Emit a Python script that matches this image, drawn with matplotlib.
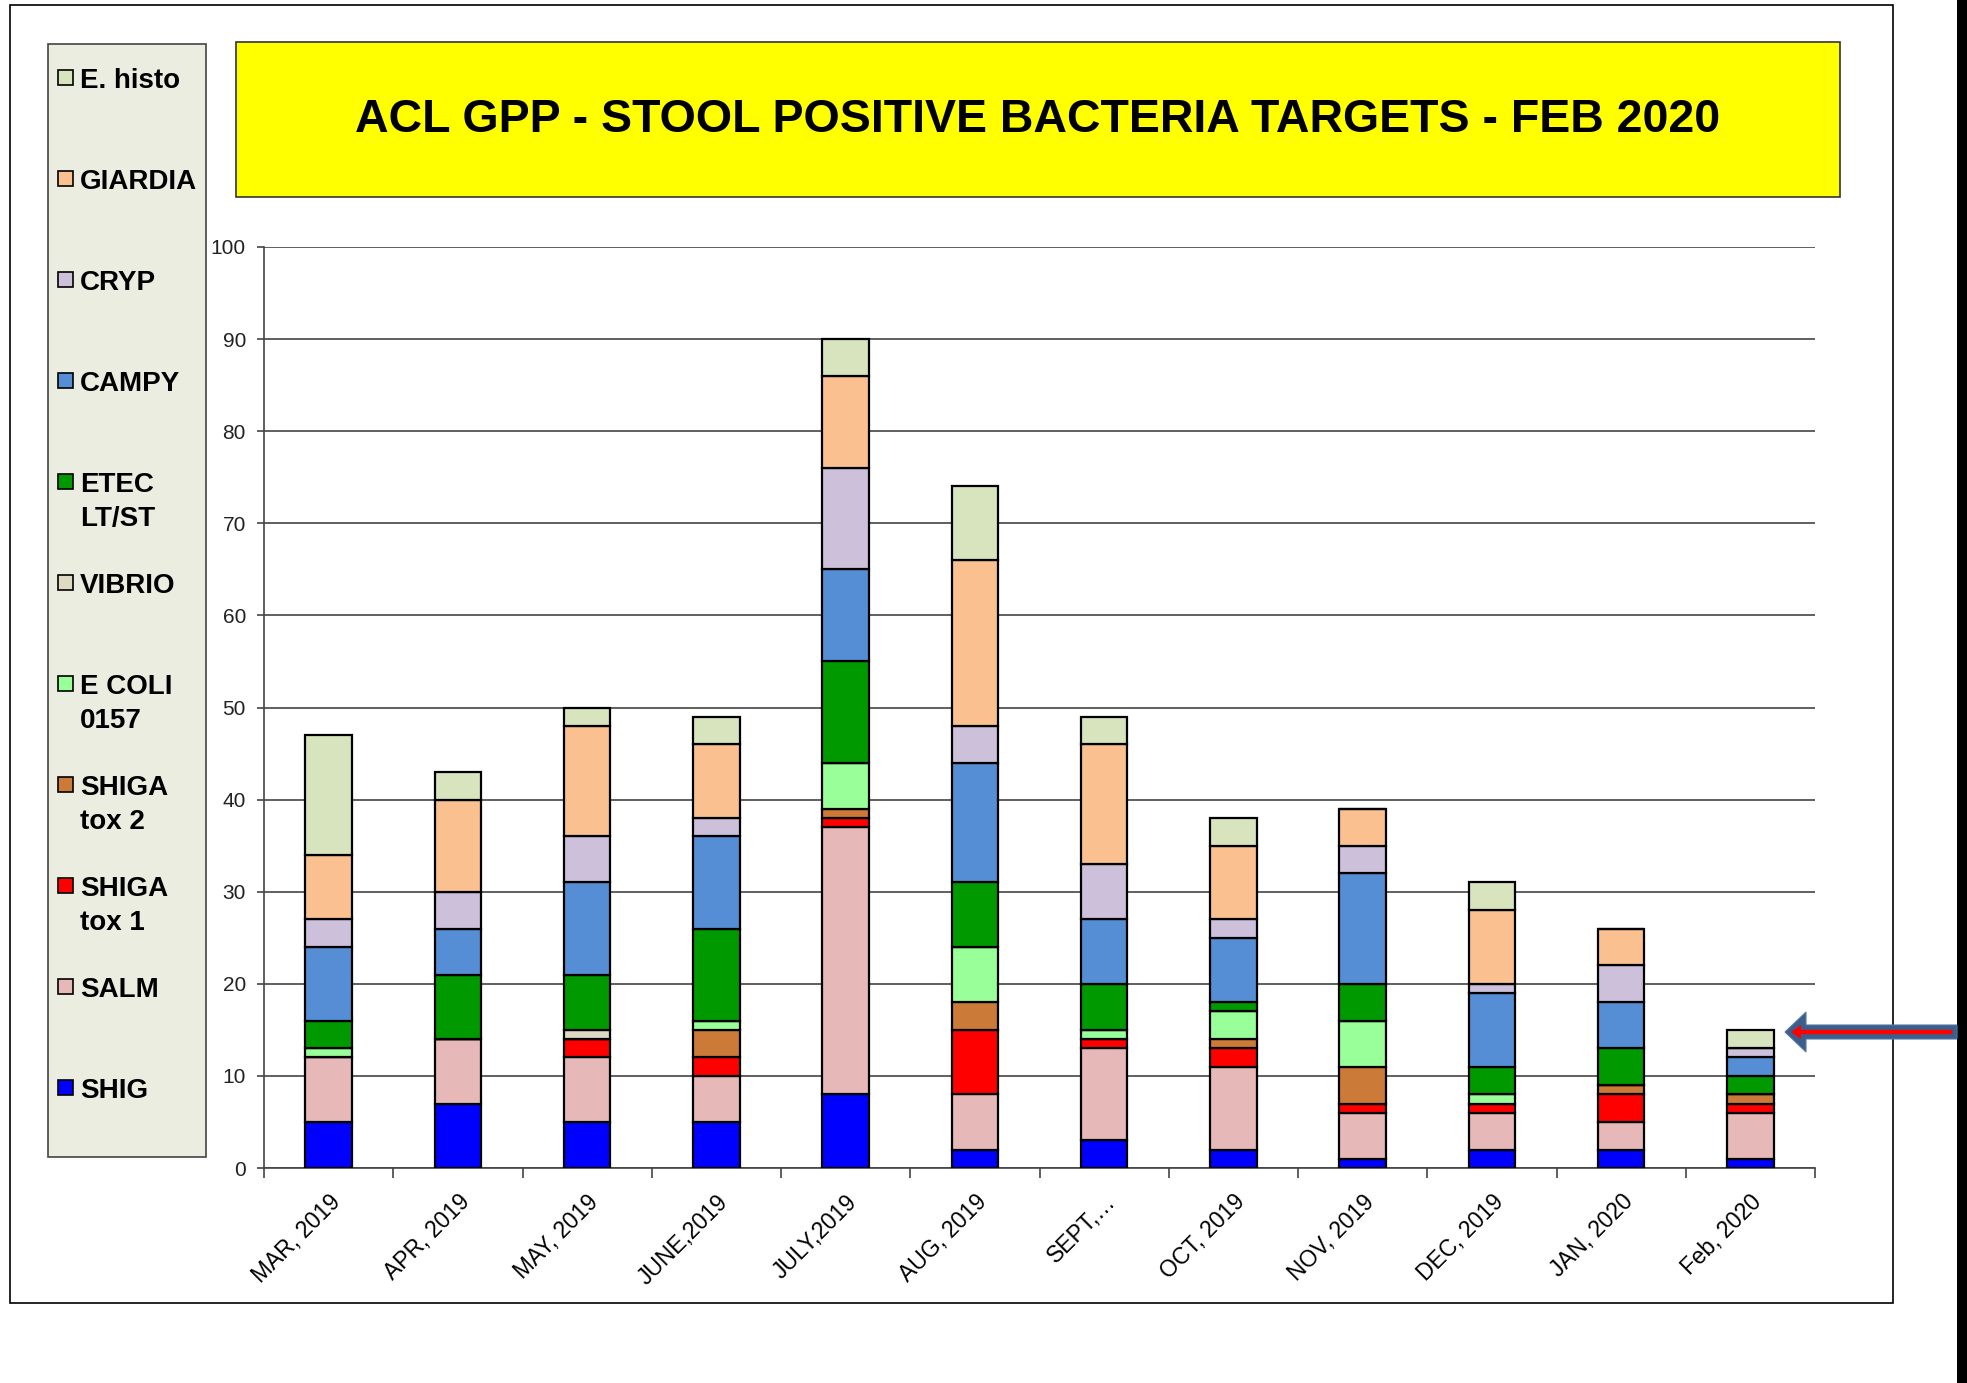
import matplotlib
matplotlib.use("Agg")
import matplotlib.pyplot as plt
from matplotlib.patches import Rectangle, Polygon
from matplotlib.lines import Line2D
import numpy as np

plt.rcParams['font.family'] = ['Liberation Sans', 'DejaVu Sans']

months = ["MAR, 2019", "APR, 2019", "MAY, 2019", "JUNE,2019", "JULY,2019",
          "AUG, 2019", "SEPT,\u2026", "OCT, 2019", "NOV, 2019", "DEC, 2019",
          "JAN, 2020", "Feb, 2020"]

shig    = [5, 7, 5, 5, 8, 2, 3, 2, 1, 2, 2, 1]
salm    = [7, 7, 7, 5, 29, 6, 10, 9, 5, 4, 3, 5]
shiga1  = [0, 0, 2, 2, 1, 7, 1, 2, 1, 1, 3, 1]
shiga2  = [0, 0, 0, 3, 1, 3, 0, 1, 4, 0, 1, 1]
ecoli   = [1, 0, 0, 1, 5, 6, 1, 3, 5, 1, 0, 0]
vibrio  = [0, 0, 1, 0, 0, 0, 0, 0, 0, 0, 0, 0]
etec    = [3, 7, 6, 10, 11, 7, 5, 1, 4, 3, 4, 2]
campy   = [8, 5, 10, 10, 10, 13, 7, 7, 12, 8, 5, 2]
cryp    = [3, 4, 5, 2, 11, 4, 6, 2, 3, 1, 4, 1]
giardia = [7, 10, 12, 8, 10, 18, 13, 8, 4, 8, 4, 0]
ehisto  = [13, 3, 2, 3, 4, 8, 3, 3, 0, 3, 0, 2]

series_names = ["SHIG", "SALM", "SHIGA\ntox 1", "SHIGA\ntox 2", "E COLI\n0157",
                "VIBRIO", "ETEC\nLT/ST", "CAMPY", "CRYP", "GIARDIA", "E. histo"]
series_vals = [shig, salm, shiga1, shiga2, ecoli, vibrio, etec, campy, cryp, giardia, ehisto]
colors = ["#0000FF", "#E6B8B7", "#FF0000", "#CC7A38", "#99FF99",
          "#DDD9C3", "#009900", "#558ED5", "#CCC0DA", "#FAC090", "#D7E4BD"]

title = "ACL GPP - STOOL POSITIVE BACTERIA TARGETS - FEB 2020"

W, H = 1967, 1383
fig = plt.figure(figsize=(W / 100, H / 100), dpi=100)
fig.patch.set_facecolor("white")


def fx(px):
    return px / W


def fy(py):
    return 1 - py / H


# axes placement
ax_l, ax_r, ax_t, ax_b = 264, 1815, 247, 1168
ax = fig.add_axes([fx(ax_l), fy(ax_b), fx(ax_r - ax_l), (ax_b - ax_t) / H])

x = np.arange(len(months))
bottom = np.zeros(len(months))
for name, vals, c in zip(series_names, series_vals, colors):
    v = np.array(vals, dtype=float)
    ax.bar(x, v, width=0.36, bottom=bottom, color=c, edgecolor="black",
           linewidth=1.6, zorder=3, label=name)
    bottom += v

ax.set_xlim(-0.5, len(months) - 0.5)
ax.set_ylim(0, 100)
ax.set_yticks(np.arange(0, 101, 10))
ax.yaxis.grid(True, color="#444444", linewidth=1.2, zorder=0)
ax.set_axisbelow(True)
for s in ["top", "right"]:
    ax.spines[s].set_visible(False)
for s in ["left", "bottom"]:
    ax.spines[s].set_color("#444444")
    ax.spines[s].set_linewidth(1.2)

ax.set_xticks(np.arange(-0.5, len(months), 1.0))
ax.set_xticklabels([])
ax.set_xticks(x, minor=True)
ax.set_xticklabels(months, minor=True, rotation=45, ha="right", va="top",
                   rotation_mode="anchor", fontsize=16.5)
ax.tick_params(axis="x", which="minor", length=0, pad=16)
ax.tick_params(axis="x", which="major", length=7, width=1.2, color="#444444")
ax.tick_params(axis="y", length=5, width=1.2, color="#444444", labelsize=15,
               pad=8, labelcolor="#222222")

# outer frame
fig.add_artist(Rectangle((fx(10), fy(1303)), fx(1893 - 10), (1303 - 5) / H,
                         transform=fig.transFigure, fill=False,
                         edgecolor="black", linewidth=1.2))
# right black edge bar
fig.add_artist(Rectangle((fx(1957), 0), fx(10), 1, transform=fig.transFigure,
                         facecolor="black", edgecolor="none"))

# title box
fig.add_artist(Rectangle((fx(236), fy(197)), fx(1840 - 236), (197 - 42) / H,
                         transform=fig.transFigure, facecolor="#FFFF00",
                         edgecolor="#333333", linewidth=1.2))
fig.text(fx(1038), fy(120), title, ha="center", va="center", fontsize=33.5,
         fontweight="bold", color="black")

# legend box
fig.add_artist(Rectangle((fx(48), fy(1157)), fx(206 - 48), (1157 - 44) / H,
                         transform=fig.transFigure, facecolor="#EBEDE0",
                         edgecolor="#444444", linewidth=1.2))
for i, idx in enumerate(range(len(series_names) - 1, -1, -1)):
    cy = 78 + i * 101
    fig.add_artist(Rectangle((fx(58), fy(cy + 7)), fx(15), 15 / H,
                             transform=fig.transFigure, facecolor=colors[idx],
                             edgecolor="black", linewidth=1.2))
    for j, line in enumerate(series_names[idx].split("\n")):
        fig.text(fx(80), fy(cy + 10 + j * 34), line, ha="left", va="baseline",
                 fontsize=20, fontweight="bold", color="black")

# arrow annotation
arrow_pts = [(1785, 1032), (1806, 1012), (1806, 1025), (1957, 1025),
             (1957, 1039), (1806, 1039), (1806, 1052)]
fig.add_artist(Polygon([(fx(a), fy(b)) for a, b in arrow_pts], closed=True,
                       transform=fig.transFigure, facecolor="#3B5E8B",
                       edgecolor="#5578A8", linewidth=0.8))
fig.add_artist(Line2D([fx(1798), fx(1950)], [fy(1032), fy(1032)],
                      transform=fig.transFigure, color="#FF0000", linewidth=3.2))
red_tip = [(1791, 1032), (1801, 1025), (1801, 1039)]
fig.add_artist(Polygon([(fx(a), fy(b)) for a, b in red_tip], closed=True,
                       transform=fig.transFigure, facecolor="#FF0000",
                       edgecolor="none"))

fig.savefig("out.png", dpi=100, facecolor="white")
